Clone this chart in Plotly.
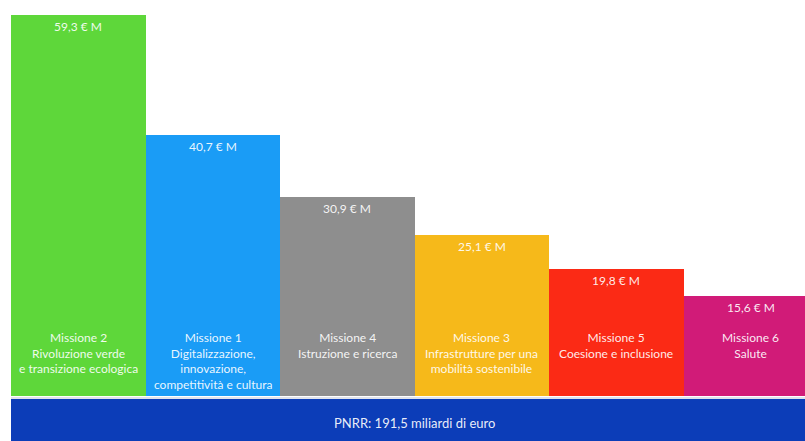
import plotly.graph_objects as go

# PNRR allocation per mission (billions of euro)
missions = ["Missione 2", "Missione 1", "Missione 4", "Missione 3", "Missione 5", "Missione 6"]
descriptions = [
    "Rivoluzione verde<br>e transizione ecologica",
    "Digitalizzazione,<br>innovazione,<br>competitività e cultura",
    "Istruzione e ricerca",
    "Infrastrutture per una<br>mobilità sostenibile",
    "Coesione e inclusione",
    "Salute",
]
values = [59.3, 40.7, 30.9, 25.1, 19.8, 15.6]
value_labels = ["59,3 € M", "40,7 € M", "30,9 € M", "25,1 € M", "19,8 € M", "15,6 € M"]
colors = ["#5ed73a", "#1a9cf6", "#8e8e8e", "#f6b91a", "#fb2a15", "#d11b78"]
total_label = "PNRR: 191,5 miliardi di euro"

FONT = "Lato"
W, H = 805, 441
positions = list(range(len(missions)))

fig = go.Figure()
fig.add_trace(go.Bar(
    x=positions,
    y=values,
    width=1.0,
    marker=dict(color=colors, line=dict(width=0)),
    hoverinfo="skip",
))

# value labels just below each bar top
for i, (v, lab) in enumerate(zip(values, value_labels)):
    fig.add_annotation(
        x=i, y=v, xref="x", yref="y",
        text=lab, showarrow=False,
        yanchor="top", yshift=-2,
        font=dict(family=FONT, size=12, color="rgba(255,255,255,0.92)"),
    )

# mission name + description in the lower part of each bar
for i, (m, d) in enumerate(zip(missions, descriptions)):
    fig.add_annotation(
        x=i, y=1 - 328 / H, xref="x", yref="paper",
        text=f"{m}<br>{d}", showarrow=False,
        yanchor="top", align="center",
        font=dict(family=FONT, size=12, color="rgba(255,255,255,0.92)"),
    )

# total banner underneath the bars
fig.add_shape(
    type="rect", xref="x", yref="paper",
    x0=-0.5, x1=len(missions) - 0.5,
    y0=-0.05, y1=1 - 399 / H,
    fillcolor="#0c3db8", line=dict(width=0), layer="above",
)
fig.add_shape(
    type="rect", xref="x", yref="paper",
    x0=-0.5, x1=len(missions) - 0.5,
    y0=1 - 399 / H, y1=1 - 397 / H,
    fillcolor="#dfe3ec", line=dict(width=0), layer="above",
)
fig.add_annotation(
    x=(len(missions) - 1) / 2, y=1 - 423 / H, xref="x", yref="paper",
    text=total_label, showarrow=False, yanchor="middle",
    font=dict(family=FONT, size=13, color="rgba(255,255,255,0.92)"),
)

bar_px = 134.5
left_px = 11
px_per_unit = 381 / max(values)
bottom_px = 396

fig.update_layout(
    width=W, height=H,
    margin=dict(l=0, r=0, t=0, b=0),
    paper_bgcolor="white", plot_bgcolor="white",
    showlegend=False, bargap=0,
    xaxis=dict(
        range=[-0.5 - left_px / bar_px, -0.5 + (W - left_px) / bar_px],
        visible=False, fixedrange=True,
    ),
    yaxis=dict(
        range=[-(H - bottom_px) / px_per_unit, bottom_px / px_per_unit],
        visible=False, fixedrange=True,
    ),
)

fig.write_html("out.html")
